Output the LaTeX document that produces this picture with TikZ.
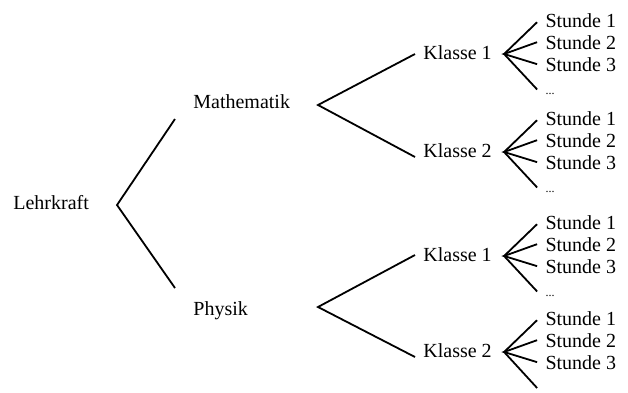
\documentclass[tikz,border=0pt]{standalone}
\usepackage{fontspec}
\setmainfont{Liberation Serif}
\usetikzlibrary{positioning}
\tikzset{
  lbl/.style={inner sep=0pt,anchor=base west,font=\fontsize{10}{12}\selectfont},
  punkte/.style={inner sep=0pt,anchor=base west,font=\fontsize{6}{7}\selectfont},
  ast/.style={line width=0.9pt,black},
}
% Stunden-Gabel rechts von einem Klassen-Knoten
\newcommand{\stunden}[2]{%
  \coordinate (#1v) at ([xshift=6pt,yshift=2.5pt]#1.base east);
  \node[lbl] (#1a) at ([xshift=20.5pt,yshift=13.5pt]#1v) {Stunde 1};
  \node[lbl] (#1b) at ([xshift=20.5pt,yshift=2.5pt]#1v) {Stunde 2};
  \node[lbl] (#1c) at ([xshift=20.5pt,yshift=-8.5pt]#1v) {Stunde 3};
  \node[punkte] (#1d) at ([xshift=20.5pt,yshift=-20pt]#1v) {#2};
  \draw[ast] ([xshift=-4pt,yshift=-1pt]#1a.west) -- (#1v) -- ([xshift=-4pt,yshift=2pt]#1d.west);
  \draw[ast] ([xshift=-4pt]#1b.west) -- (#1v) -- ([xshift=-4pt]#1c.west);
}

\begin{document}
\begin{tikzpicture}[x=0.5pt,y=-0.5pt]
\useasboundingbox (0,0) rectangle (628,392);
\node[lbl] (lk) at (13,209) {Lehrkraft};
\node[lbl] (ma) at (193,108) {Mathematik};
\node[lbl] (ph) at (193,315) {Physik};
\node[lbl] (mk1) at (423,59) {Klasse 1};
\node[lbl] (mk2) at (423,157) {Klasse 2};
\node[lbl] (pk1) at (423,261) {Klasse 1};
\node[lbl] (pk2) at (423,357) {Klasse 2};
\coordinate (lkv) at (117,205);
\coordinate (mav) at (318,105);
\coordinate (phv) at (318,307);
\draw[ast] ([xshift=-9pt,yshift=-5.5pt]ma.base west) -- (lkv) -- ([xshift=-9pt,yshift=13.5pt]ph.base west);
\draw[ast] ([xshift=-4pt,yshift=2.5pt]mk1.base west) -- (mav) -- ([xshift=-4pt]mk2.base west);
\draw[ast] ([xshift=-4pt,yshift=3pt]pk1.base west) -- (phv) -- ([xshift=-4pt]pk2.base west);
\stunden{mk1}{...}
\stunden{mk2}{...}
\stunden{pk1}{...}
\stunden{pk2}{}
\end{tikzpicture}
\end{document}
